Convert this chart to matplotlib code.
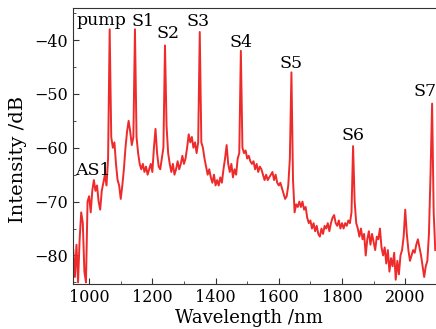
import numpy as np
import matplotlib
matplotlib.use('Agg')
import matplotlib.pyplot as plt
from matplotlib.ticker import MultipleLocator

# spectrum, 5 nm steps from 950 to 2095 nm
wl = np.arange(950, 2100, 5)
db = np.array([
    -79, -84, -78, -85, -77, -72, -74, -83, -85, -70,            # 950
    -69, -72, -68, -66, -68, -67, -70, -71.5, -68, -66.5,        # 1000
    -65, -67, -62, -38, -58, -60, -59, -63, -66, -67,            # 1050
    -69.5, -67, -64, -60, -57, -55, -57, -59.5, -58, -38,        # 1100
    -58, -61, -63, -64, -63, -64.5, -63.5, -65, -64, -63,        # 1150
    -64.5, -60, -56.5, -61, -63.5, -64, -62, -60, -41, -56,      # 1200
    -61, -63, -64.5, -63, -65, -64, -62.5, -64, -63, -61.5,      # 1250
    -63, -62, -60, -57.5, -59, -58, -60, -59, -61, -59,          # 1300
    -38.5, -59, -60, -62, -63.5, -65, -64, -65.5, -66.5, -65,    # 1350
    -67, -66, -67, -65.5, -66.5, -64, -62, -59.5, -63, -64.5,    # 1400
    -63, -65.5, -64, -65, -62, -61, -42, -60, -61, -60.5,        # 1450
    -62, -61.5, -62.5, -63, -62.5, -64, -63, -64.5, -63.5, -64,  # 1500
    -65, -66, -65, -66, -65.5, -65, -64.5, -66, -65, -66.5,      # 1550
    -67, -66.5, -67.5, -68.5, -69.5, -69, -67, -62, -46, -66,    # 1600
    -72, -70.5, -71, -70, -71, -70, -71.5, -71, -73, -74,        # 1650
    -73.5, -75, -74, -75.5, -74.5, -76, -76.5, -75, -76, -74.5,  # 1700
    -75, -74, -75.5, -74, -73, -72.5, -74, -74.5, -73.5, -75,    # 1750
    -74, -75, -74, -74.5, -73.5, -74, -72, -59.7, -70, -74,      # 1800
    -75, -76.5, -75, -77, -76, -80, -77, -75.5, -78, -76,        # 1850
    -77.5, -79, -76.5, -77, -75, -78.5, -80, -78.5, -81.5, -79,  # 1900
    -83, -80.5, -82, -79.5, -84.5, -81, -83.5, -80, -79, -76.5,  # 1950
    -71.5, -76, -79, -81, -80, -79, -79.5, -78, -77, -78.5,      # 2000
    -80, -82, -84, -82, -81, -76, -65, -51.8, -72, -79,          # 2050
])

labels = ['pump', 'S1', 'S2', 'S3', 'S4', 'S5', 'S6', 'S7', 'AS1']
label_x = [1040, 1172, 1251, 1345, 1481, 1640, 1835, 2064, 1011]
label_y = [-36.3, -36.6, -38.7, -36.6, -40.4, -44.3, -57.7, -49.5, -64.2]

plt.rcParams['font.family'] = 'DejaVu Serif'

fig = plt.figure(figsize=(4.36, 3.29), dpi=100)
ax = fig.add_axes([73/436, 1-284/329, 367/436, 276/329])

ax.plot(wl, db, color='#ee2a2a', lw=1.4)

for t, x, y in zip(labels, label_x, label_y):
    ax.text(x, y, t, ha='center', va='center', fontsize=12.5)

ax.set_xlim(949, 2110)
ax.set_ylim(-85.3, -34.05)
ax.xaxis.set_major_locator(MultipleLocator(200))
ax.xaxis.set_minor_locator(MultipleLocator(100))
ax.yaxis.set_major_locator(MultipleLocator(10))
ax.yaxis.set_minor_locator(MultipleLocator(5))
ax.tick_params(which='both', direction='in', labelsize=11.5, color='#333333')
ax.tick_params(which='major', length=4)
ax.tick_params(which='minor', length=2)
for s in ax.spines.values():
    s.set_color('#333333')

fig.text(248.5/436, 1-318/329, 'Wavelength /nm', ha='center', va='center', fontsize=13)
fig.text(18/436, 1-159/329, 'Intensity /dB', ha='center', va='center', rotation=90, fontsize=14)

fig.savefig('out.png', dpi=100)
